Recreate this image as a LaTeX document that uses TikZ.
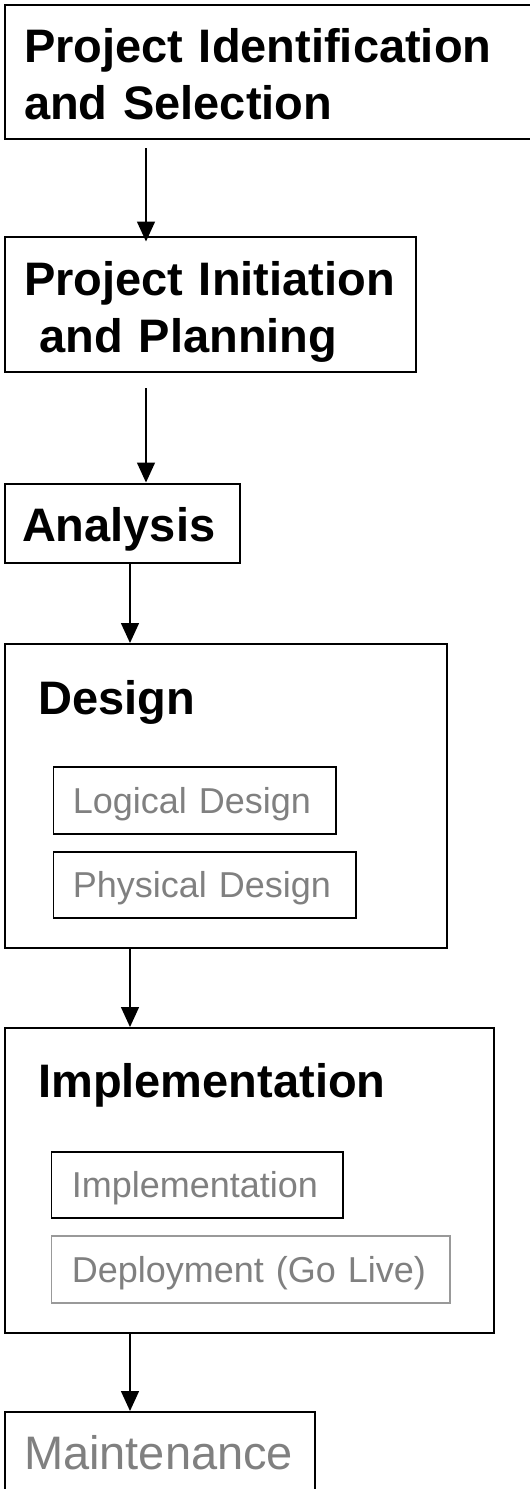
\documentclass[tikz,border=0pt]{standalone}
\usepackage{fontspec}
\setmainfont{Liberation Sans}
\usepackage{tikz}
\usetikzlibrary{positioning}
\usetikzlibrary{arrows.meta}
\definecolor{subgray}{HTML}{808080}
\definecolor{linegray}{HTML}{999999}
\tikzset{x=1pt, y=-1pt,
stage/.style={ % Sets the properties for each phase box
draw, line width=2pt,
anchor=north west,
align=left,
inner ysep=0pt,
font=\bfseries\fontsize{47}{57}\selectfont},
task/.style={ % Sets the properties for the boxes inside a phase
draw, line width=1.6pt,
anchor=north west,
align=left,
inner ysep=0pt,
text=subgray,
font=\fontsize{36}{43}\selectfont},
every edge/.style={ % Sets the properties for each arrow
draw,
-{Triangle[length=20pt,width=18pt]},
line width=1.5pt}}

\begin{document}
\begin{tikzpicture}
\useasboundingbox (0,0) rectangle (530,1489);
\clip (0,0) rectangle (530,1489);
\node[stage, inner xsep=19.5pt, text width=497.5pt, text height=57.5pt, text depth=77pt] (ident) at (3.5,3.5) {\mbox{Project Identification}\\and Selection};
\node[stage, inner xsep=19.5pt, text width=372.5pt, text height=58.5pt, text depth=77pt] (init) at (3.5,235.5) {\mbox{Project Initiation}\\\mbox{} and Planning};
\node[stage, inner xsep=17.5pt, text width=200.5pt, text height=57.5pt, text depth=22pt] (analysis) at (3.5,482.5) {Analysis};
% Design phase with its two steps
\node[draw, line width=2pt, anchor=north west, inner sep=0pt, minimum width=442.5pt, minimum height=304pt] (design) at (3.5,643) {};
\node[anchor=base west, inner sep=0pt, font=\bfseries\fontsize{47}{57}\selectfont] (designtitle) at (38,714) {Design};
\node[task, inner xsep=19.5pt, text width=243.5pt, text height=47pt, text depth=20pt] (logical) at (52.5,766) {Logical Design};
\node[task, inner xsep=19.5pt, text width=263.5pt, text height=46pt, text depth=20pt] (physical) at (52.5,851) {Physical Design};
% Implementation phase with its two steps
\node[draw, line width=2pt, anchor=north west, inner sep=0pt, minimum width=489.5pt, minimum height=304.5pt] (impl) at (3.5,1027) {};
\node[anchor=base west, inner sep=0pt, font=\bfseries\fontsize{47}{57}\selectfont] (impltitle) at (38,1097) {Implementation};
\node[task, inner xsep=20.5pt, text width=250.5pt, text height=46pt, text depth=20pt] (implstep) at (50.5,1151) {Implementation};
\node[task, draw=linegray, inner xsep=20.5pt, text width=357.5pt, text height=47pt, text depth=20pt] (deploy) at (50.5,1235) {\mbox{Deployment (Go Live)}};
\node[stage, font=\fontsize{47}{57}\selectfont, text=subgray, inner xsep=19.5pt, text width=271.5pt, text height=57pt, text depth=80pt] (maint) at (3.5,1411) {Maintenance};
\draw ([xshift=142.5pt, yshift=-8pt]ident.south west) edge[shorten >=-6pt] ([xshift=142.5pt]init.north west) ;
\draw ([xshift=142.5pt, yshift=-15pt]init.south west) edge[] ([xshift=142.5pt]analysis.north west) ;
\draw ([xshift=126.5pt]analysis.south west) edge[] ([xshift=126.5pt]design.north west) ;
\draw ([xshift=126.5pt]design.south west) edge[] ([xshift=126.5pt]impl.north west) ;
\draw ([xshift=126.5pt]impl.south west) edge[] ([xshift=126.5pt]maint.north west) ;
\end{tikzpicture}
\end{document}
